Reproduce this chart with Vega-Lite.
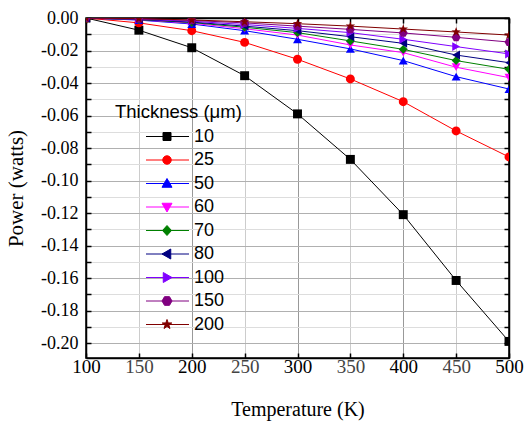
{
  "$schema": "https://vega.github.io/schema/vega-lite/v6.json",
  "width": 423,
  "height": 340,
  "autosize": "none",
  "padding": {"left": 86, "top": 18, "right": 17, "bottom": 65},
  "background": "white",
  "config": {"view": {"stroke": "black", "strokeWidth": 1.5}},
  "data": {"values": [
    {"T": 100, "10": 0, "25": 0, "50": 0, "60": 0, "70": 0, "80": 0, "100": 0, "150": 0, "200": 0},
    {"T": 150, "10": -0.0075, "25": -0.003, "50": -0.0013, "60": -0.0011, "70": -0.001, "80": -0.0009, "100": -0.0007, "150": -0.0005, "200": -0.0004},
    {"T": 200, "10": -0.0183, "25": -0.0078, "50": -0.0037, "60": -0.0032, "70": -0.0028, "80": -0.0025, "100": -0.002, "150": -0.0015, "200": -0.0012},
    {"T": 250, "10": -0.0355, "25": -0.015, "50": -0.0078, "60": -0.0066, "70": -0.0057, "80": -0.005, "100": -0.004, "150": -0.003, "200": -0.0023},
    {"T": 300, "10": -0.059, "25": -0.0254, "50": -0.0131, "60": -0.0105, "70": -0.009, "80": -0.0078, "100": -0.0064, "150": -0.005, "200": -0.0035},
    {"T": 350, "10": -0.087, "25": -0.0375, "50": -0.019, "60": -0.0166, "70": -0.0141, "80": -0.0115, "100": -0.009, "150": -0.007, "200": -0.005},
    {"T": 400, "10": -0.121, "25": -0.0515, "50": -0.0262, "60": -0.0213, "70": -0.0193, "80": -0.0156, "100": -0.0131, "150": -0.0092, "200": -0.0068},
    {"T": 450, "10": -0.1615, "25": -0.0695, "50": -0.0361, "60": -0.0303, "70": -0.0262, "80": -0.0228, "100": -0.0176, "150": -0.0119, "200": -0.0086},
    {"T": 500, "10": -0.199, "25": -0.0855, "50": -0.0437, "60": -0.0367, "70": -0.0316, "80": -0.0275, "100": -0.0221, "150": -0.0148, "200": -0.0105}
  ]},
  "transform": [{"fold": ["10", "25", "50", "60", "70", "80", "100", "150", "200"], "as": ["thickness", "power"]}],
  "encoding": {
    "color": {
      "field": "thickness", "type": "nominal",
      "scale": {"domain": ["10", "25", "50", "60", "70", "80", "100", "150", "200"],
                "range": ["#000000", "#ff0000", "#0000ff", "#ff00ff", "#008000", "#000080", "#8000ff", "#800080", "#800000"]},
      "legend": {
        "orient": "none", "legendX": 29, "legendY": 85,
        "title": "Thickness (μm)",
        "titleFont": "Liberation Sans", "titleFontSize": 18.5, "titleFontWeight": "normal", "titleColor": "black",
        "labelFont": "Liberation Sans", "labelFontSize": 18, "labelColor": "black",
        "symbolSize": 100, "symbolStrokeWidth": 1, "symbolOpacity": 1,
        "rowPadding": 5.5, "titlePadding": 6, "labelOffset": 61, "padding": 0,
        "encode": {"symbols": {"update": {
          "shape": {"signal": "['M4.4,0L13,0M7.8,-0.8H9.4V0.8H7.8Z','M4.4,0L13,0M7.75,0A0.85,0.85 0 1,1 9.45,0A0.85,0.85 0 1,1 7.75,0Z','M4.4,0L13,0M8.6,-1L9.6,0.75L7.6,0.75Z','M4.4,0L13,0M8.6,1L9.6,-0.75L7.6,-0.75Z','M4.4,0L13,0M8.6,-1L9.5,0L8.6,1L7.7,0Z','M4.4,0L13,0M7.6,0L9.35,-1L9.35,1Z','M4.4,0L13,0M9.6,0L7.85,-1L7.85,1Z','M4.4,0L13,0M7.6,0L8.1,-0.87L9.1,-0.87L9.6,0L9.1,0.87L8.1,0.87Z','M4.4,0L13,0M8.6,-1L8.835,-0.324L9.551,-0.309L8.98,0.124L9.188,0.809L8.6,0.4L8.012,0.809L8.22,0.124L7.649,-0.309L8.365,-0.324Z'][indexof(['10','25','50','60','70','80','100','150','200'], datum.value)]"}
        }}}
      }
    }
  },
  "layer": [
    {
      "mark": {"type": "line", "strokeWidth": 1, "clip": true},
      "encoding": {
        "x": {"field": "T", "type": "quantitative",
          "scale": {"domain": [100, 500], "nice": false, "zero": false},
          "axis": {"orient": "bottom", "values": [100, 150, 200, 250, 300, 350, 400, 450, 500], "format": "d",
            "labelFlush": false, "labelOverlap": false,
            "grid": true, "gridColor": {"condition": {"test": "datum.value % 100 == 0", "value": "#999999"}, "value": "#cccccc"},
            "tickSize": -5, "tickColor": "black", "tickWidth": 1.5, "domainColor": "black", "domainWidth": 1.5,
            "labelFont": "Liberation Serif", "labelFontSize": 19,
            "labelColor": {"condition": {"test": "datum.value % 100 == 0", "value": "#000000"}, "value": "#444444"},
            "labelPadding": 4,
            "title": "Temperature (K)", "titleFont": "Liberation Serif", "titleFontSize": 20, "titleFontWeight": "normal", "titleColor": "black", "titlePadding": 23}},
        "y": {"field": "power", "type": "quantitative",
          "scale": {"domain": [-0.2092, 0], "nice": false, "zero": false},
          "axis": {"orient": "left",
            "values": [0, -0.01, -0.02, -0.03, -0.04, -0.05, -0.06, -0.07, -0.08, -0.09, -0.1, -0.11, -0.12, -0.13, -0.14, -0.15, -0.16, -0.17, -0.18, -0.19, -0.2],
            "labelExpr": "abs(round(datum.value*100)) % 2 == 0 ? replace(format(datum.value, '.2f'), '\u2212', '-') : ''",
            "labelOverlap": false, "labelFlush": false,
            "grid": true, "gridColor": {"condition": {"test": "abs(round(datum.value*100)) % 2 == 0", "value": "#b0b0b0"}, "value": "#dddddd"},
            "tickSize": -5, "tickColor": "black", "tickWidth": 1.5, "domainColor": "black", "domainWidth": 1.5,
            "labelFont": "Liberation Serif", "labelFontSize": 18, "labelColor": "black", "labelPadding": 13,
            "title": "Power (watts)", "titleFont": "Liberation Serif", "titleFontSize": 21, "titleFontWeight": "normal", "titleColor": "black", "titlePadding": 14}}
      }
    },
    {
      "mark": {"type": "point", "filled": true, "size": 80, "opacity": 1, "clip": true},
      "encoding": {
        "x": {"field": "T", "type": "quantitative",
          "scale": {"domain": [100, 500], "nice": false, "zero": false},
          "axis": {"orient": "top", "values": [100, 150, 200, 250, 300, 350, 400, 450, 500], "labels": false, "title": null, "grid": false,
            "tickSize": -5, "tickColor": "black", "tickWidth": 1.5, "domainColor": "black", "domainWidth": 1.5}},
        "y": {"field": "power", "type": "quantitative",
          "scale": {"domain": [-0.2092, 0], "nice": false, "zero": false},
          "axis": {"orient": "right",
            "values": [0, -0.01, -0.02, -0.03, -0.04, -0.05, -0.06, -0.07, -0.08, -0.09, -0.1, -0.11, -0.12, -0.13, -0.14, -0.15, -0.16, -0.17, -0.18, -0.19, -0.2],
            "labels": false, "title": null, "grid": false,
            "tickSize": -5, "tickColor": "black", "tickWidth": 1.5, "domainColor": "black", "domainWidth": 1.5}},
        "shape": {"field": "thickness", "type": "nominal",
          "scale": {"domain": ["200", "150", "100", "80", "70", "60", "50", "25", "10"],
                    "range": ["M0,-1.1L0.26,-0.36L1.05,-0.34L0.42,0.14L0.65,0.89L0,0.44L-0.65,0.89L-0.42,0.14L-1.05,-0.34L-0.26,-0.36Z",
                              "M-1,0L-0.5,-0.866L0.5,-0.866L1,0L0.5,0.866L-0.5,0.866Z",
                              "triangle-right", "triangle-left", "diamond", "triangle-down", "triangle-up", "circle", "square"]},
          "legend": null}
      }
    }
  ],
  "resolve": {"axis": {"x": "independent", "y": "independent"}}
}
